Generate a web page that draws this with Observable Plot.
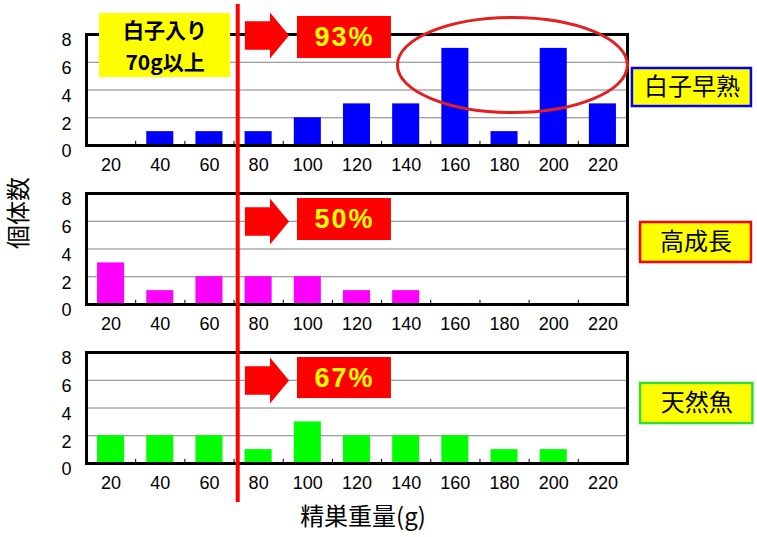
<!DOCTYPE html>
<html><head><meta charset="utf-8">
<script src="https://cdn.jsdelivr.net/npm/d3@7"></script>
<script src="https://cdn.jsdelivr.net/npm/@observablehq/plot@0.6"></script>
<style>
html,body{margin:0;padding:0;background:#fff;}
.pct{letter-spacing:2px;}
</style></head><body><div id="chart"></div>
<script>
// ---- data ----
const weights = [20,40,60,80,100,120,140,160,180,200,220];
const groups = ["白子早熟","高成長","天然魚"];
const prematureCounts = [0,1,1,1,2,3,3,7,1,7,3];
const highGrowthCounts = [3,1,2,2,2,1,1,0,0,0,0];
const wildCounts = [2,2,2,1,3,2,2,2,1,1,0];
const groupColors = ["#0000ff","#ff00ff","#00ff00"];
const labelBorders = ["#0000ff","#ff0000","#33dd33"];
const percentLabels = ["93%","50%","67%"];
const yTicks = [0,2,4,6,8];
const gridValues = [2,4,6];
const binEdges = [30,50,70,90,110,130,150,170,190,210];
const thresholdG = 71.5;           // red vertical line (grams)
const noteLines = ["白子入り","70g以上"];
const yTitle = "個体数";
const xTitle = "精巣重量(g)";

// annotation placement in data units (x: grams, y: count)
const pctBoxX = [95.8, 134];
const pctBoxY = [[6.27, 9.3],[4.61, 7.64],[4.68, 7.64]];
const arrowX = 83.4;
const arrowY = [7.93, 5.98, 5.98];
const labelBoxX = [[232, 280.4],[235.3, 280.4],[235.3, 281]];
const labelBoxY = [[2.81, 5.55],[3.03, 5.91],[2.88, 5.77]];
const noteBox = {x1: 15.3, x2: 68.6, y1: 4.9, y2: 9.51};
const noteLineY = [8.2, 5.95];
const ellipse = {x: 183.2, y: 5.8};

// ---- tables ----
const countsByGroup = [prematureCounts, highGrowthCounts, wildCounts];
const bars = [];
groups.forEach((g, gi) => weights.forEach((w, wi) => {
  const c = countsByGroup[gi][wi];
  if (c > 0) bars.push({group: g, w, count: c, color: groupColors[gi]});
}));
const ann = groups.map((g, i) => ({
  group: g, pct: percentLabels[i],
  px1: pctBoxX[0], px2: pctBoxX[1], py1: pctBoxY[i][0], py2: pctBoxY[i][1],
  ax: arrowX, ay: arrowY[i],
  lx1: labelBoxX[i][0], lx2: labelBoxX[i][1], ly1: labelBoxY[i][0], ly2: labelBoxY[i][1],
  border: labelBorders[i]
}));
const notes = noteLines.map((t, i) => ({group: groups[0], t, y: noteLineY[i]}));

// ---- custom symbols ----
const blockArrow = {
  draw(ctx, size) {
    const r = Math.sqrt(size / Math.PI);
    const back = -0.96 * r, hs = 0.13 * r, tip = 0.96 * r, bh = 0.62 * r, hh = r;
    ctx.moveTo(back, -bh); ctx.lineTo(hs, -bh); ctx.lineTo(hs, -hh);
    ctx.lineTo(tip, 0); ctx.lineTo(hs, hh); ctx.lineTo(hs, bh);
    ctx.lineTo(back, bh); ctx.closePath();
  }
};
const ellipseSym = {
  draw(ctx, size) {
    const rx = Math.sqrt(size / Math.PI), ry = rx * 0.413, k = 0.5523;
    ctx.moveTo(rx, 0);
    ctx.bezierCurveTo(rx, ry * k, rx * k, ry, 0, ry);
    ctx.bezierCurveTo(-rx * k, ry, -rx, ry * k, -rx, 0);
    ctx.bezierCurveTo(-rx, -ry * k, -rx * k, -ry, 0, -ry);
    ctx.bezierCurveTo(rx * k, -ry, rx, -ry * k, rx, 0);
    ctx.closePath();
  }
};

const jp = "Noto Sans CJK JP";
const num = "Liberation Sans, Arial, sans-serif";

const chart = Plot.plot({
  width: 757, height: 537,
  marginLeft: 86, marginRight: 130, marginTop: 34, marginBottom: 73,
  style: {fontFamily: num, fontSize: "18px", color: "#000", background: "#fff"},
  x: {domain: [10, 230]},
  y: {domain: [0, 8]},
  fy: {domain: groups, axis: null, paddingInner: 0.3, paddingOuter: 0},
  marks: [
    Plot.ruleY(gridValues, {stroke: "#808080", strokeWidth: 1}),
    Plot.rectY(bars, {x1: d => d.w - 5.5, x2: d => d.w + 5.5, y: "count", fy: "group", fill: "color"}),
    Plot.ruleX(binEdges, {y1: 0, y2: 0.3, stroke: "#000", strokeWidth: 1}),
    Plot.frame({stroke: "#000", strokeWidth: 3}),
    Plot.axisX({ticks: weights, tickSize: 0, tickPadding: 13, label: null, facetAnchor: null, fontSize: 18, fontFamily: num}),
    Plot.axisY({ticks: yTicks, tickSize: 0, tickPadding: 15, dy: 6, label: null, fontSize: 18, fontFamily: num}),
    // note box (top panel)
    Plot.rect([{group: groups[0], ...noteBox}], {x1: "x1", x2: "x2", y1: "y1", y2: "y2", fy: "group", fill: "#ffff00"}),
    Plot.text(notes, {x: (noteBox.x1 + noteBox.x2) / 2, y: "y", fy: "group", text: "t", fontSize: 21, fontWeight: "bold", fontFamily: jp, fill: "#000"}),
    // ellipse (top panel)
    Plot.dot([{group: groups[0], ...ellipse}], {x: "x", y: "y", fy: "group", r: 115, symbol: ellipseSym, stroke: "#e32020", strokeWidth: 3, fill: "none"}),
    // arrows and percentage boxes
    Plot.dot(ann, {x: "ax", y: "ay", fy: "group", r: 23, symbol: blockArrow, fill: "#ff0000", stroke: "none"}),
    Plot.rect(ann, {x1: "px1", x2: "px2", y1: "py1", y2: "py2", fy: "group", fill: "#ff0000"}),
    Plot.text(ann, {x: d => (d.px1 + d.px2) / 2, y: d => (d.py1 + d.py2) / 2, fy: "group", text: "pct", fill: "#ffff00", fontSize: 27, fontWeight: "bold", fontFamily: num, className: "pct"}),
    // group label boxes
    Plot.rect(ann, {x1: "lx1", x2: "lx2", y1: "ly1", y2: "ly2", fy: "group", fill: "#ffff00", stroke: "border", strokeWidth: 2.5}),
    Plot.text(ann, {x: d => (d.lx1 + d.lx2) / 2, y: d => (d.ly1 + d.ly2) / 2, fy: "group", text: "group", fill: "#000", fontSize: 24, fontFamily: jp}),
    // axis titles
    Plot.text([{group: groups[1], t: yTitle}], {fy: "group", text: "t", frameAnchor: "left", dx: -67, rotate: -90, fontSize: 24, fontFamily: jp, fill: "#000"}),
    Plot.text([{group: groups[2], t: xTitle}], {fy: "group", text: "t", frameAnchor: "bottom", dy: 61, dx: 6, fontSize: 24, fontFamily: jp, fill: "#000"}),
    // threshold line spanning all panels (drawn from the bottom panel)
    Plot.ruleX([{group: groups[2], x: thresholdG}], {x: "x", fy: "group", y1: 33.08, y2: -2.81, stroke: "#ff0000", strokeWidth: 4})
  ]
});
document.getElementById("chart").append(chart);
</script>
</body></html>
